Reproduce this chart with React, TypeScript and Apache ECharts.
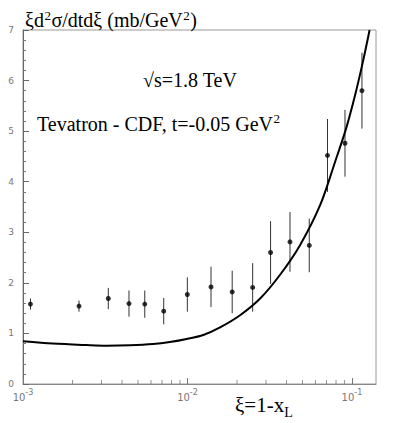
import React, { useEffect, useRef } from "react";
import * as echarts from "echarts";

// Measured data points (xi, value, symmetric error)
const xiData = [0.00111, 0.00219, 0.0033, 0.00441, 0.0055, 0.00717, 0.00998, 0.0139, 0.0187, 0.0249, 0.032, 0.042, 0.055, 0.071, 0.0907, 0.115];
const valData = [1.58, 1.54, 1.69, 1.59, 1.58, 1.44, 1.77, 1.92, 1.82, 1.91, 2.6, 2.81, 2.74, 4.52, 4.76, 5.8];
const errData = [0.11, 0.11, 0.21, 0.26, 0.27, 0.26, 0.34, 0.4, 0.42, 0.48, 0.62, 0.59, 0.53, 0.72, 0.66, 0.75];

// Theory curve
const curveXi = [0.001, 0.00152, 0.00243, 0.00322, 0.00447, 0.00619, 0.00782, 0.00989, 0.01248, 0.01578, 0.02088, 0.02765, 0.03656, 0.04842, 0.06412, 0.07909, 0.09226, 0.1046, 0.1167, 0.128];
const curveVal = [0.845, 0.8, 0.77, 0.757, 0.765, 0.79, 0.83, 0.89, 0.97, 1.12, 1.36, 1.69, 2.16, 2.75, 3.54, 4.4, 5.06, 5.72, 6.38, 7.0];

// Axis settings
const xMin = 0.001;
const xMax = 0.14;
const yMin = 0;
const yMax = 7;
const xMinorTicks = [0.002, 0.003, 0.004, 0.005, 0.006, 0.007, 0.008, 0.009, 0.02, 0.03, 0.04, 0.05, 0.06, 0.07, 0.08, 0.09];

const serif = "'Liberation Serif', 'DejaVu Serif', serif";
const sans = "'DejaVu Sans', 'Liberation Sans', sans-serif";

function measure(text: string, size: number): number {
  const c = document.createElement("canvas");
  const ctx = c.getContext("2d");
  if (!ctx) return text.length * size * 0.5;
  ctx.font = size + "px 'Liberation Serif', 'DejaVu Serif', serif";
  return ctx.measureText(text).width;
}

// place a text by its baseline
function txt(x: number, baseline: number, text: string, size: number) {
  return {
    type: "text",
    x,
    y: baseline - 0.33 * size,
    silent: true,
    style: {
      text,
      fontSize: size,
      fontFamily: serif,
      fill: "#000",
      align: "left",
      verticalAlign: "middle",
    },
  };
}

export default function App() {
  const ref = useRef<HTMLDivElement>(null);

  useEffect(() => {
    document.body.style.margin = "0";
    if (!ref.current) return;
    const chart = echarts.init(ref.current, null, { renderer: "svg" });

    const points = xiData.map((x, i) => [x, valData[i]]);
    const bars = xiData.map((x, i) => [x, valData[i] - errData[i], valData[i] + errData[i]]);
    const curve = curveXi.map((x, i) => [x, curveVal[i]]);
    const minor = xMinorTicks.map((x) => [x, 0]);

    // Y title: ξd²σ/dtdξ (mb/GeV²)
    const ty = 27;
    const tx0 = 25;
    const p1 = "ξd";
    const p2 = "σ/dtdξ (mb/GeV";
    const w1 = measure(p1, 20);
    const ws = measure("2", 13);
    const w2 = measure(p2, 20);
    // Tevatron line
    const tv = "Tevatron - CDF, t=-0.05 GeV";
    const wtv = measure(tv, 20);
    // x title
    const xt = "ξ=1-x";
    const wxt = measure(xt, 21);

    const graphics: any[] = [
      txt(tx0, ty, p1, 20),
      txt(tx0 + w1 + 0.5, ty - 7, "2", 13),
      txt(tx0 + w1 + ws + 1, ty, p2, 20),
      txt(tx0 + w1 + ws + 1 + w2 + 0.5, ty - 7, "2", 13),
      txt(tx0 + w1 + ws + 1 + w2 + ws + 1, ty, ")", 20),
      txt(143, 87, "√s=1.8 TeV", 20),
      txt(37, 131, tv, 20),
      txt(37 + wtv + 0.5, 123, "2", 13),
      txt(235, 412, xt, 21),
      txt(235 + wxt, 417, "L", 14),
    ];

    chart.setOption({
      animation: false,
      grid: {
        left: 23,
        top: 30,
        right: 20,
        bottom: 39,
        show: true,
        borderColor: "#9a9a9a",
        borderWidth: 1,
      },
      xAxis: {
        type: "log",
        logBase: 10,
        min: xMin,
        max: xMax,
        axisLine: { show: true, lineStyle: { color: "#888", width: 1 } },
        axisTick: { show: true, inside: true, length: 6, lineStyle: { color: "#777" } },
        splitLine: { show: false },
        axisLabel: {
          showMaxLabel: false,
          margin: 4,
          color: "#777",
          formatter: (v: number) => {
            const e = Math.log10(v);
            if (Math.abs(e - Math.round(e)) > 1e-6) return "";
            return "{b|10}{s|" + Math.round(e) + "}";
          },
          rich: {
            b: { fontSize: 10, fontFamily: sans, color: "#777", lineHeight: 18, verticalAlign: "middle" },
            s: { fontSize: 8, fontFamily: sans, color: "#777", lineHeight: 10, verticalAlign: "top" },
          },
        },
      },
      yAxis: {
        type: "value",
        min: yMin,
        max: yMax,
        interval: 1,
        axisLine: { show: true, lineStyle: { color: "#666", width: 1 } },
        axisTick: { show: true, inside: true, length: 6, lineStyle: { color: "#666" } },
        minorTick: { show: true, splitNumber: 5, length: 3, lineStyle: { color: "#777" } },
        splitLine: { show: false },
        axisLabel: { margin: 9, color: "#777", fontSize: 9, fontFamily: sans },
      },
      graphic: graphics,
      series: [
        {
          type: "scatter",
          data: minor,
          symbol: "rect",
          symbolSize: [1, 4],
          symbolOffset: [0, -2],
          itemStyle: { color: "#777" },
          silent: true,
          clip: false,
        },
        {
          type: "line",
          data: curve,
          smooth: 0.3,
          showSymbol: false,
          symbol: "none",
          lineStyle: { color: "#000", width: 2 },
          silent: true,
          clip: true,
        },
        {
          type: "custom",
          data: bars,
          encode: { x: 0, y: [1, 2] },
          renderItem: (params: any, api: any) => {
            const x = api.value(0);
            const lo = api.coord([x, api.value(1)]);
            const hi = api.coord([x, api.value(2)]);
            return {
              type: "line",
              shape: { x1: lo[0], y1: lo[1], x2: hi[0], y2: hi[1] },
              style: { stroke: "#333", lineWidth: 1 },
            };
          },
          silent: true,
        },
        {
          type: "scatter",
          data: points,
          symbol: "circle",
          symbolSize: 5,
          itemStyle: { color: "#000" },
          silent: true,
        },
      ],
    });

    return () => chart.dispose();
  }, []);

  return <div ref={ref} style={{ width: 396, height: 423 }} />;
}
